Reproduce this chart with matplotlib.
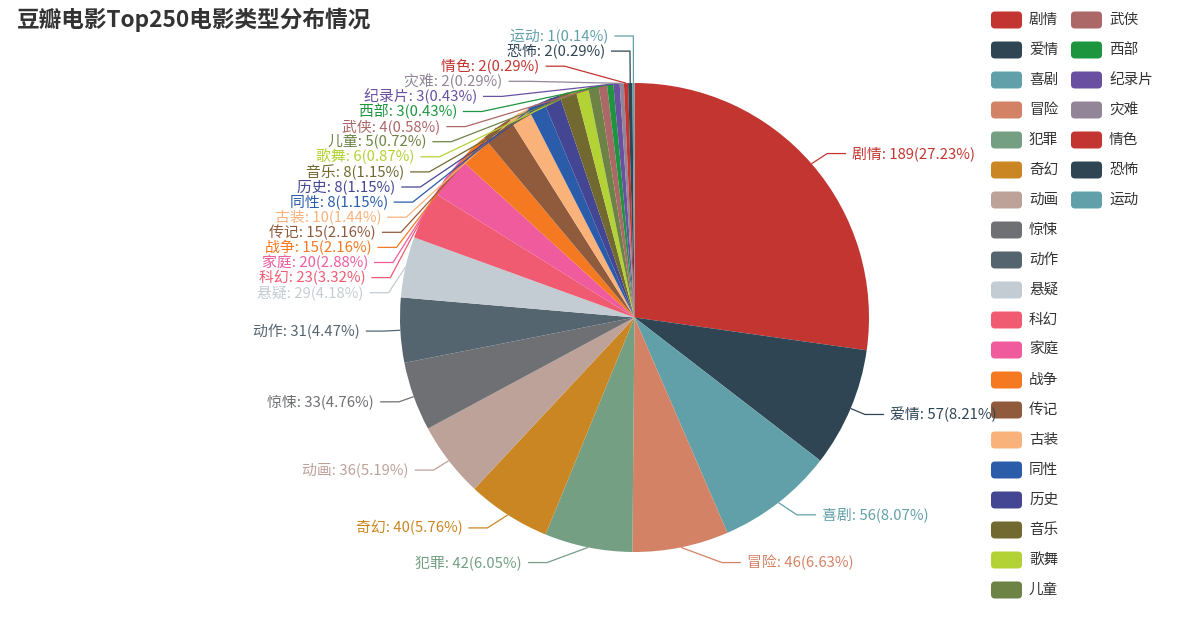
import numpy as np
import matplotlib
matplotlib.use("Agg")
import matplotlib.pyplot as plt
from matplotlib.patches import FancyBboxPatch

plt.rcParams['font.family'] = ['Noto Sans CJK SC', 'DejaVu Sans']

genres = ['剧情', '爱情', '喜剧', '冒险', '犯罪', '奇幻', '动画', '惊悚', '动作', '悬疑',
          '科幻', '家庭', '战争', '传记', '古装', '同性', '历史', '音乐', '歌舞', '儿童',
          '武侠', '西部', '纪录片', '灾难', '情色', '恐怖', '运动']
counts = [189, 57, 56, 46, 42, 40, 36, 33, 31, 29,
          23, 20, 15, 15, 10, 8, 8, 8, 6, 5,
          4, 3, 3, 2, 2, 2, 1]
palette = ['#c23531', '#2f4554', '#61a0a8', '#d48265', '#749f83', '#ca8622', '#bda29a',
           '#6e7074', '#546570', '#c4ccd3', '#f05b72', '#ef5b9c', '#f47920', '#905a3d',
           '#fab27b', '#2a5caa', '#444693', '#726930', '#b2d235', '#6d8346', '#ac6767',
           '#1d953f', '#6950a1', '#918597']
colors = [palette[i % len(palette)] for i in range(len(genres))]
title = '豆瓣电影Top250电影类型分布情况'

W, H = 1178, 639
fig = plt.figure(figsize=(W / 100, H / 100), dpi=100)
ax = fig.add_axes([0, 0, 1, 1])


def py(y):
    # pixel row (from top) -> data y
    return H - y


def percents(values, precision=2):
    # largest remainder rounding, so the shares add up to exactly 100
    digits = 10 ** precision
    total = sum(values)
    votes = [v / total * 100 * digits for v in values]
    seats = [int(np.floor(v)) for v in votes]
    rem = [v - s for v, s in zip(votes, seats)]
    left = 100 * digits - sum(seats)
    for k in sorted(range(len(rem)), key=lambda k: -rem[k])[:left]:
        seats[k] += 1
    return [s / digits for s in seats]


cx, cy_px, R = 634.5, 317.5, 234.5
cy = py(cy_px)
wedges, _ = ax.pie(counts, colors=colors, startangle=90, counterclock=False,
                   center=(cx, cy), radius=R, wedgeprops=dict(linewidth=0))
ax.set_xlim(0, W)
ax.set_ylim(0, H)
ax.set_aspect('equal')
ax.axis('off')

# label layout (pixel units)
LEN1, LEN2, GAP = 15.5, 19, 6
ELL_A, ELL_B = 247, 262
STEP = 15.1
TOP, BOTTOM = 36, 625


def spread(ys, step, top, bottom):
    order = list(np.argsort(ys))
    groups = [[k] for k in order]
    while True:
        pos = []
        for g in groups:
            c = np.mean([ys[k] for k in g])
            start = c - step * (len(g) - 1) / 2
            start = min(max(start, top), bottom - step * (len(g) - 1))
            pos.append(start)
        merged = False
        for j in range(len(groups) - 1):
            if pos[j] + step * len(groups[j]) > pos[j + 1]:
                groups[j] = groups[j] + groups[j + 1]
                del groups[j + 1]
                merged = True
                break
        if not merged:
            break
    out = {}
    for g, p in zip(groups, pos):
        for n, k in enumerate(g):
            out[k] = p + n * step
    return out


pct = percents(counts)
mids = [np.deg2rad((w.theta1 + w.theta2) / 2) for w in wedges]
sides = [1 if np.cos(m) >= 0 else -1 for m in mids]
label_y = {}
for side in (1, -1):
    idx = [i for i in range(len(mids)) if sides[i] == side]
    nat = [cy_px - (R + LEN1) * np.sin(mids[i]) for i in idx]
    res = spread(nat, STEP, TOP, BOTTOM)
    for k, i in enumerate(idx):
        label_y[i] = res[k]

for i, m in enumerate(mids):
    side = sides[i]
    yl = label_y[i]
    dy = abs(yl - cy_px)
    ell = ELL_A * np.sqrt(max(0.0, 1 - (dy / ELL_B) ** 2))
    nat_dx = abs((R + LEN1) * np.cos(m))
    dx = max(ell, nat_dx)
    corner_x = cx + side * dx
    end_x = corner_x + side * LEN2
    p1 = (cx + R * np.cos(m), cy + R * np.sin(m))
    ax.plot([p1[0], corner_x, end_x], [p1[1], py(yl), py(yl)],
            color=colors[i], lw=0.9, solid_capstyle='butt')
    txt = f'{genres[i]}: {counts[i]}({pct[i]:.2f}%)'
    ax.text(end_x + side * GAP, py(yl), txt, color=colors[i], fontsize=10.7,
            ha='left' if side > 0 else 'right', va='center')

# title
ax.text(17, py(20), title, fontsize=16.3, fontweight='bold', color='#333333',
        ha='left', va='center')

# legend, vertical, wrapping into columns
ROWS = 20
for i, name in enumerate(genres):
    col, row = i // ROWS, i % ROWS
    x0 = 991 + col * 80
    yc = 20 + row * 30
    box = FancyBboxPatch((x0, py(yc) - 8.5), 31, 17,
                         boxstyle='round,pad=0,rounding_size=4',
                         facecolor=colors[i], edgecolor='none')
    ax.add_patch(box)
    ax.text(x0 + 38, py(yc), name, fontsize=10.5, color='#333333',
            ha='left', va='center')

fig.savefig('out.png', dpi=100)
